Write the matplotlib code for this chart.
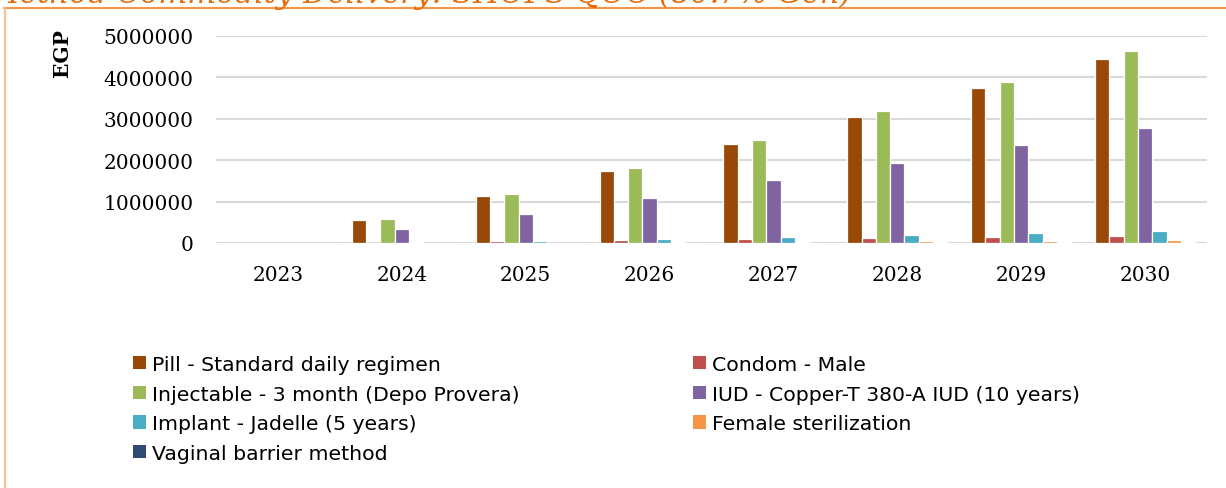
import numpy as np
import matplotlib
matplotlib.use('Agg')
import matplotlib.pyplot as plt
from matplotlib.lines import Line2D
from matplotlib.patches import Patch

# Datos
years = ['2023', '2024', '2025', '2026', '2027', '2028', '2029', '2030']
methods = ['Pill - Standard daily regimen', 'Condom - Male',
           'Injectable - 3 month (Depo Provera)', 'IUD - Copper-T 380-A IUD (10 years)',
           'Implant - Jadelle (5 years)', 'Female sterilization', 'Vaginal barrier method']
pill = [0, 560000, 1140000, 1750000, 2390000, 3050000, 3740000, 4440000]
condom = [0, 10000, 40000, 65000, 90000, 110000, 140000, 170000]
injectable = [0, 580000, 1185000, 1820000, 2490000, 3190000, 3900000, 4630000]
iud = [0, 330000, 700000, 1090000, 1510000, 1930000, 2370000, 2780000]
implant = [0, 20000, 55000, 105000, 145000, 190000, 240000, 280000]
female_ster = [0, 5000, 10000, 15000, 25000, 45000, 55000, 70000]
vaginal = [0, 2000, 5000, 8000, 12000, 20000, 22000, 30000]
series = [pill, condom, injectable, iud, implant, female_ster, vaginal]
colors = ['#984807', '#C0504D', '#9BBB59', '#8064A2', '#4BACC6', '#F79646', '#2F4B74']

W, H = 1226, 489
fig = plt.figure(figsize=(W / 100, H / 100), dpi=100)
ax = fig.add_axes([216 / W, 245 / H, 991 / W, 207 / H])

x = np.arange(len(years))
slot = 0.1154
for i, (vals, c) in enumerate(zip(series, colors)):
    ax.bar(x + (i - 3) * slot, vals, width=slot, color=c, edgecolor='white',
           linewidth=0.9, zorder=3)

ax.set_xlim(-0.5, len(years) - 0.5)
ax.set_ylim(0, 5000000)
ax.set_yticks(range(0, 5000001, 1000000))
ax.set_yticklabels([str(v) for v in range(0, 5000001, 1000000)])
ax.set_xticks(x)
ax.set_xticklabels(years)
for s in ax.spines.values():
    s.set_visible(False)
ax.grid(axis='y', color='#d9d9d9', linewidth=1.5, zorder=0)
ax.tick_params(length=0, labelsize=14.5, colors='black')
ax.tick_params(axis='y', pad=16)
ax.tick_params(axis='x', pad=16)
for lab in ax.get_xticklabels() + ax.get_yticklabels():
    lab.set_family('DejaVu Serif')

# Etiqueta del eje
fig.text(62 / W, 1 - 53 / H, 'EGP', rotation=90, ha='center', va='center',
         family='DejaVu Serif', fontweight='bold', fontsize=14.5)

# Leyenda (orden por filas como en Excel)
order = [0, 2, 4, 6, 1, 3, 5]
handles = [Patch(facecolor=colors[i], edgecolor='none') for i in order]
labels = [methods[i] for i in order]
fig.legend(handles, labels, ncol=2, loc='upper left', bbox_to_anchor=(133 / W, 1 - 356 / H),
           frameon=False, prop={'family': 'DejaVu Sans', 'size': 14.7},
           handlelength=0.63, handleheight=0.63, handletextpad=0.3,
           columnspacing=8.5, labelspacing=0.52, borderaxespad=0, borderpad=0)

# Titulo cortado y marco naranja
fig.text(-12 / W, 1 - 3 / H, 'Method Commodity Delivery: SHOPS QOC (80.7% Gen)',
         color='#E46C0A', family='DejaVu Serif', style='italic', fontsize=22,
         ha='left', va='baseline')
fig.add_artist(Line2D([4 / W, 1], [1 - 9 / H, 1 - 9 / H], color='#F79646', linewidth=1.5,
                      transform=fig.transFigure))
fig.add_artist(Line2D([5 / W, 5 / W], [0, 1 - 9 / H], color='#FAC090', linewidth=1.5,
                      transform=fig.transFigure))

fig.savefig('out.png', dpi=100)
